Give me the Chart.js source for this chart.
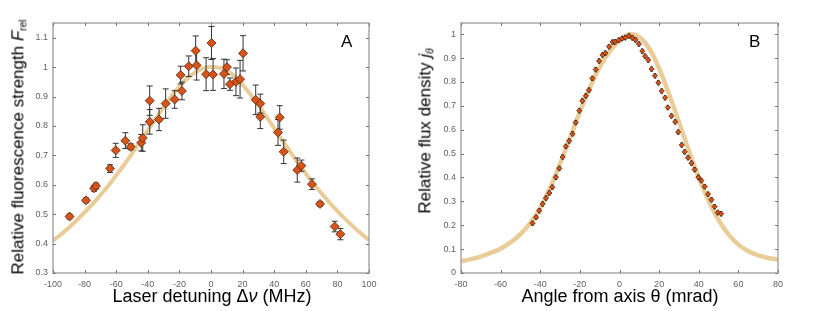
<!DOCTYPE html>
<html><head><meta charset="utf-8">
<script src="https://cdn.jsdelivr.net/npm/chart.js@4.4.1/dist/chart.umd.min.js"></script>
<style>
body{margin:0;background:#fff;}
#wrap{position:relative;width:817px;height:311px;overflow:hidden;font-family:"Liberation Sans",Arial,sans-serif;background:#fff;}
canvas{position:absolute;top:0;}
.lbl{position:absolute;color:#000;white-space:nowrap;line-height:1;}
.rot{transform:translate(-50%,-50%) rotate(-90deg);}
.hc{transform:translate(-50%,-50%);}
sub{font-size:0.6em;vertical-align:-0.3em;}
</style></head><body>
<div id="wrap">
<canvas id="cA" width="400" height="311" style="left:0"></canvas>
<canvas id="cB" width="417" height="311" style="left:400px"></canvas>
<div class="lbl rot" style="left:19px;top:147px;font-size:17px;">Relative fluorescence strength <i>F</i><sub>rel</sub></div>
<div class="lbl hc" style="left:212px;top:296px;font-size:18px;">Laser detuning Δ<i>ν</i> (MHz)</div>
<div class="lbl" style="left:341px;top:33px;font-size:17px;">A</div>
<div class="lbl rot" style="left:426px;top:131px;font-size:17px;">Relative flux density <i>j</i><sub><i>θ</i></sub></div>
<div class="lbl hc" style="left:620px;top:296px;font-size:18px;">Angle from axis θ (mrad)</div>
<div class="lbl" style="left:749px;top:33px;font-size:17px;">B</div>
</div>
<script>
// ---- Panel A data ----
const detuning = [-89.5,-79.1,-74,-72.8,-63.9,-60.3,-54.2,-50.8,-44.1,-43.2,-38.8,-38.8,-32.9,-28.7,-23,-19.2,-18.4,-14.1,-9.7,-9.1,-3.1,0.3,1.3,8.2,10.1,12,15.8,18.4,20.3,28.3,31.2,31.2,42.4,43.5,46,54.6,57.2,63.9,69,78.3,81.9];
const fluor = [0.492,0.547,0.588,0.596,0.655,0.717,0.75,0.729,0.743,0.759,0.886,0.814,0.822,0.876,0.89,0.973,0.919,1.003,1.056,1.006,0.976,1.082,0.975,0.977,1.0,0.942,0.95,0.959,1.047,0.889,0.876,0.831,0.778,0.829,0.712,0.65,0.665,0.602,0.535,0.458,0.432];
const fluorErr = [0.008,0.008,0.01,0.01,0.013,0.024,0.027,0.01,0.028,0.045,0.05,0.042,0.038,0.05,0.03,0.03,0.03,0.035,0.05,0.05,0.056,0.056,0.054,0.05,0.025,0.021,0.047,0.064,0.06,0.05,0.032,0.04,0.044,0.04,0.04,0.041,0.019,0.018,0.008,0.018,0.019];
const fitAX = [-100,-95,-90,-85,-80,-75,-70,-65,-60,-55,-50,-45,-40,-35,-30,-25,-20,-15,-10,-5,0,5,10,15,20,25,30,35,40,45,50,55,60,65,70,75,80,85,90,95,100];
const fitAY = [0.41,0.431,0.454,0.479,0.506,0.534,0.565,0.597,0.632,0.668,0.706,0.745,0.785,0.825,0.864,0.901,0.934,0.961,0.982,0.996,1.0,0.998,0.988,0.968,0.94,0.907,0.871,0.832,0.792,0.752,0.713,0.675,0.638,0.603,0.57,0.539,0.51,0.483,0.458,0.434,0.412];
const xTicksA = [-100,-80,-60,-40,-20,0,20,40,60,80,100];
const yTicksA = [0.3,0.4,0.5,0.6,0.7,0.8,0.9,1.0,1.1];

// ---- Panel B data ----
const angle = [-43.9,-42.1,-40.5,-38.8,-37.1,-35.4,-33.9,-32.1,-30.4,-28.7,-27.1,-25.4,-23.7,-22.1,-20.3,-18.8,-17,-15.4,-13.7,-12,-10.3,-8.6,-7.1,-5.3,-3.5,-2.2,-0.4,1.3,2.9,4.8,6.5,8.1,9.8,11.5,12.9,14.5,16.2,17.9,19.6,21.3,23,24.4,26.2,28.1,29.6,31.4,32.9,34.6,36.3,37.9,39.8,41.3,43,44.7,46.4,48,49.6,51.3];
const flux = [0.208,0.233,0.261,0.289,0.314,0.335,0.359,0.401,0.438,0.486,0.53,0.553,0.583,0.63,0.68,0.721,0.742,0.766,0.815,0.852,0.888,0.913,0.921,0.948,0.967,0.968,0.975,0.982,0.986,0.993,0.985,0.976,0.959,0.929,0.908,0.892,0.854,0.826,0.797,0.762,0.734,0.693,0.658,0.633,0.59,0.536,0.507,0.483,0.46,0.433,0.401,0.387,0.362,0.33,0.307,0.278,0.253,0.248];
const fitBX = [-80,-75,-70,-65,-60,-55,-50,-45,-40,-35,-30,-25,-20,-15,-10,-5,0,5,10,15,20,25,30,35,40,45,50,55,60,65,70,75,80];
const fitBY = [0.049,0.058,0.069,0.084,0.102,0.128,0.163,0.21,0.272,0.357,0.458,0.565,0.675,0.775,0.862,0.928,0.973,1.0,0.988,0.94,0.856,0.75,0.632,0.512,0.4,0.303,0.222,0.162,0.119,0.091,0.074,0.063,0.056];
const xTicksB = [-80,-60,-40,-20,0,20,40,60,80];
const yTicksB = [0,0.1,0.2,0.3,0.4,0.5,0.6,0.7,0.8,0.9,1.0];

const FIT_COLOR = '#E9CC98';
const MARK_FILL = '#D95319';
const MARK_EDGE = '#4a2410';

const framePlugin = {
  id: 'frame',
  beforeDatasetDraw(chart, args, o) {
    if (args.index !== 1) return;
    const {ctx, scales: {x, y}} = chart;
    ctx.save();
    ctx.strokeStyle = o.errColor; ctx.lineWidth = 1;
    for (let i = 0; i < o.xs.length; i++) {
      const px = x.getPixelForValue(o.xs[i]);
      const py = y.getPixelForValue(o.ys[i]);
      const t = y.getPixelForValue(o.ys[i] + o.yerr[i]);
      const b = y.getPixelForValue(o.ys[i] - o.yerr[i]);
      ctx.beginPath();
      ctx.moveTo(px, t); ctx.lineTo(px, b);
      ctx.moveTo(px - o.cap, t); ctx.lineTo(px + o.cap, t);
      ctx.moveTo(px - o.cap, b); ctx.lineTo(px + o.cap, b);
      if (o.xerr) {
        const l = x.getPixelForValue(o.xs[i] - o.xerr);
        const r = x.getPixelForValue(o.xs[i] + o.xerr);
        ctx.moveTo(l, py); ctx.lineTo(r, py);
      }
      ctx.stroke();
    }
    ctx.restore();
  },
  afterDraw(chart) {
    const {ctx, chartArea: a, scales: {x, y}} = chart;
    ctx.save();
    ctx.strokeStyle = '#9a9a9a'; ctx.lineWidth = 1.3;
    ctx.strokeRect(a.left, a.top, a.right - a.left, a.bottom - a.top);
    ctx.strokeStyle = '#777'; ctx.lineWidth = 1;
    ctx.beginPath();
    x.ticks.forEach(t => {
      const px = Math.round(x.getPixelForValue(t.value)) + 0.5;
      ctx.moveTo(px, a.bottom); ctx.lineTo(px, a.bottom - 3);
      ctx.moveTo(px, a.top); ctx.lineTo(px, a.top + 3);
    });
    y.ticks.forEach(t => {
      const py = Math.round(y.getPixelForValue(t.value)) + 0.5;
      ctx.moveTo(a.left, py); ctx.lineTo(a.left + 3, py);
      ctx.moveTo(a.right, py); ctx.lineTo(a.right - 3, py);
    });
    ctx.stroke();
    ctx.restore();
  }
};

function fmt(v) { return String(Number(v.toFixed(2))); }

function makeChart(id, cfg) {
  const pts = cfg.xs.map((v, i) => ({x: v, y: cfg.ys[i]}));
  const fit = cfg.fx.map((v, i) => ({x: v, y: cfg.fy[i]}));
  return new Chart(document.getElementById(id), {
    type: 'scatter',
    data: {datasets: [
      {type: 'line', data: fit, borderColor: FIT_COLOR, borderWidth: cfg.fitW, pointRadius: 0, tension: 0.4, fill: false, order: 2},
      {data: pts, pointStyle: 'rectRot', pointRadius: cfg.r, pointBackgroundColor: MARK_FILL, pointBorderColor: MARK_EDGE, pointBorderWidth: 0.8, order: 1}
    ]},
    options: {
      responsive: false, animation: false, devicePixelRatio: 1,
      layout: {padding: {top: 23, right: cfg.padR, left: 0, bottom: 0}},
      plugins: {legend: {display: false}, tooltip: {enabled: false},
        frame: {xs: cfg.xs, ys: cfg.ys, yerr: cfg.err, xerr: cfg.xerr, cap: cfg.cap, errColor: cfg.errColor}},
      scales: {
        x: {type: 'linear', min: cfg.xmin, max: cfg.xmax,
          afterBuildTicks: s => { s.ticks = cfg.xt.map(v => ({value: v})); },
          afterFit: s => { s.height = 38; },
          grid: {display: false, drawTicks: false}, border: {display: false},
          ticks: {padding: 6, color: '#5f5f5f', font: {family: 'Liberation Sans', size: 9}, maxRotation: 0, callback: v => fmt(v)}},
        y: {type: 'linear', min: cfg.ymin, max: cfg.ymax,
          afterBuildTicks: s => { s.ticks = cfg.yt.map(v => ({value: v})); },
          afterFit: s => { s.width = cfg.yW; },
          grid: {display: false, drawTicks: false}, border: {display: false},
          ticks: {padding: 5, color: '#5f5f5f', font: {family: 'Liberation Sans', size: 9}, callback: v => fmt(v)}}
      }
    },
    plugins: [framePlugin]
  });
}

makeChart('cA', {xs: detuning, ys: fluor, err: fluorErr, xerr: 0, cap: 3, errColor: '#333',
  fx: fitAX, fy: fitAY, fitW: 4, r: 4.5, padR: 31, yW: 53,
  xmin: -100, xmax: 100, ymin: 0.3, ymax: 1.15, xt: xTicksA, yt: yTicksA});

makeChart('cB', {xs: angle, ys: flux, err: angle.map(() => 0.009), xerr: 0.6, cap: 1.2, errColor: '#222',
  fx: fitBX, fy: fitBY, fitW: 4.5, r: 2.6, padR: 39, yW: 61,
  xmin: -80, xmax: 80, ymin: 0, ymax: 1.047, xt: xTicksB, yt: yTicksB});
</script>
</body></html>
